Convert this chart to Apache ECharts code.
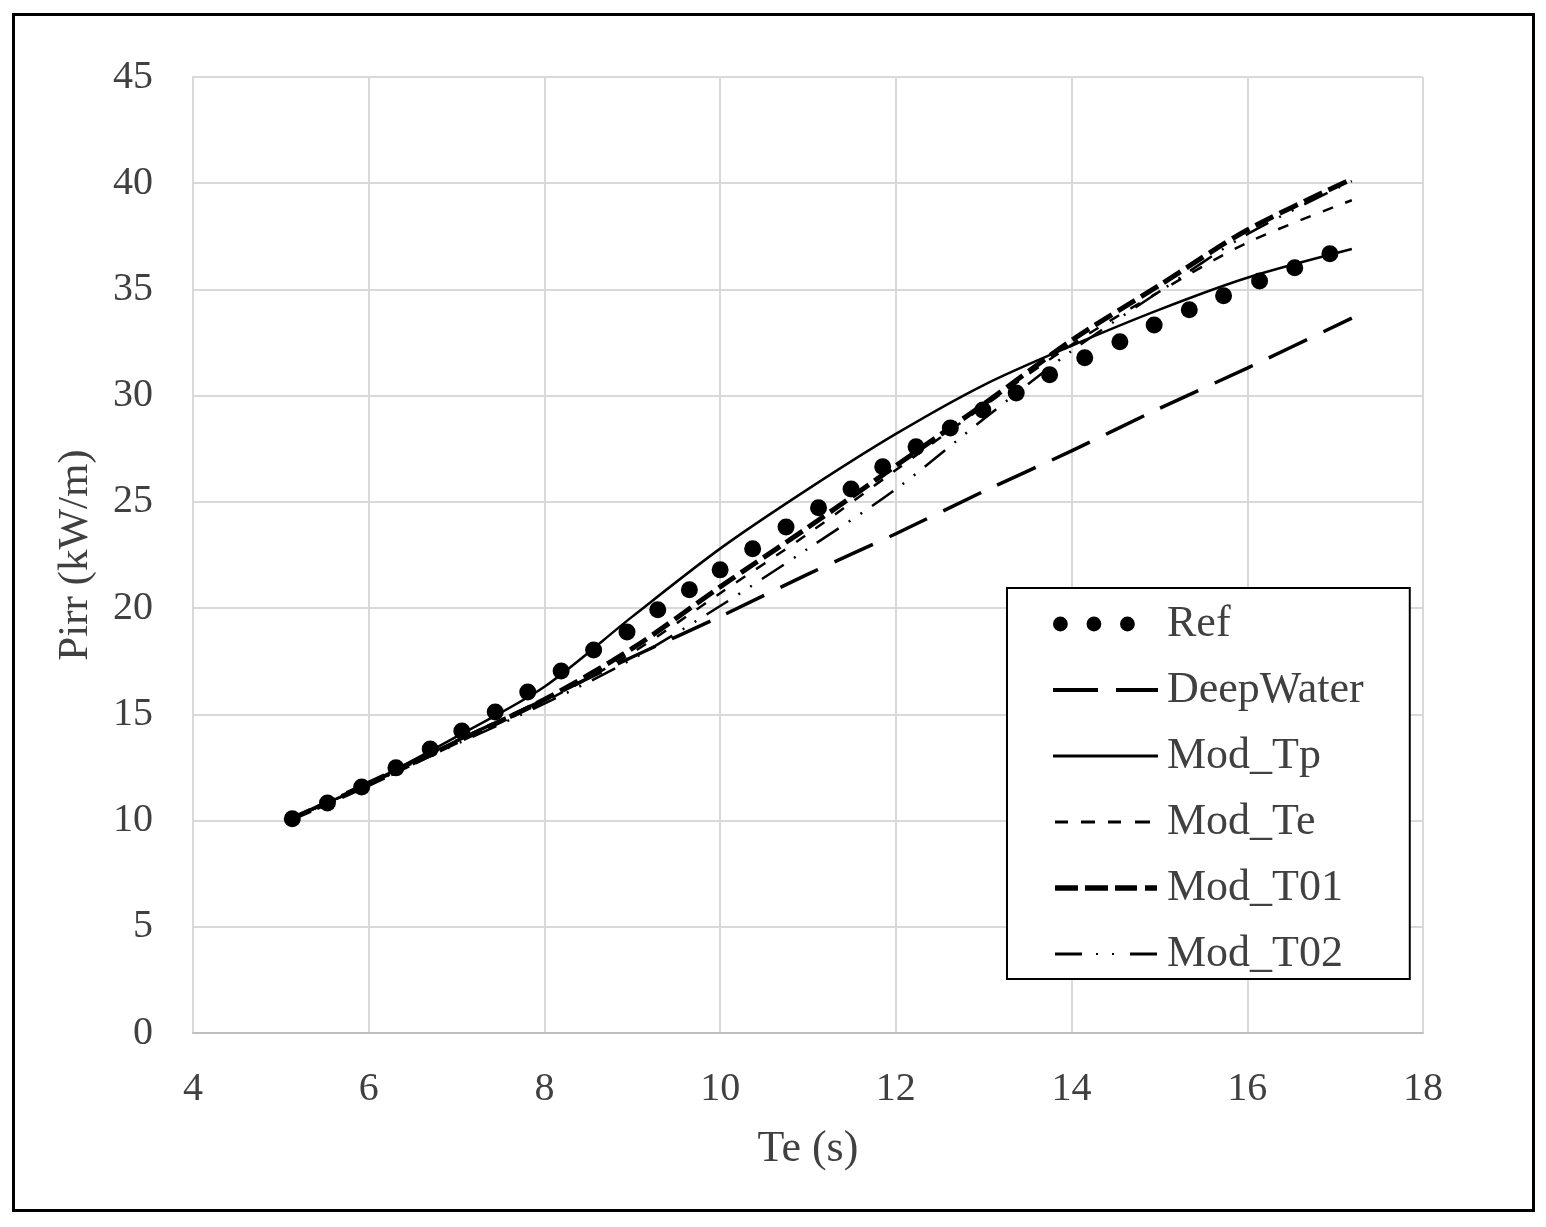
<!DOCTYPE html>
<html>
<head>
<meta charset="utf-8">
<script src="https://cdn.jsdelivr.net/npm/echarts@6/dist/echarts.min.js"></script>
<style>
html,body{margin:0;padding:0;background:#fff;}
#chart{width:1546px;height:1227px;}
</style>
</head>
<body>
<div id="chart"></div>
<script>
// ---- data ----
const refTe = [5.13,5.53,5.92,6.31,6.70,7.06,7.44,7.81,8.19,8.56,8.94,9.29,9.65,10.0,10.37,10.75,11.12,11.49,11.85,12.23,12.62,12.99,13.37,13.75,14.15,14.55,14.94,15.34,15.73,16.14,16.54,16.94];
const refP  = [10.08,10.83,11.58,12.48,13.37,14.22,15.11,16.05,17.04,18.03,18.88,19.92,20.86,21.8,22.79,23.82,24.72,25.61,26.65,27.59,28.48,29.33,30.13,30.98,31.78,32.54,33.33,34.04,34.70,35.4,36.02,36.68];

const modTe     = [5.13, 6, 7, 8, 9, 10, 11, 12, 13, 14, 15, 16, 17.19];
const deepWater = [10.1, 11.8, 13.75, 15.7, 17.7, 19.6, 21.6, 23.5, 25.5, 27.4, 29.4, 31.3, 33.65];
const modTp     = [10.1, 11.75, 13.95, 16.3, 19.6, 22.8, 25.6, 28.2, 30.5, 32.35, 34.05, 35.55, 36.9];
const modTeP    = [10.1, 11.7, 13.7, 15.6, 17.9, 20.7, 23.5, 26.5, 29.5, 32.4, 34.9, 37.2, 39.2];
const modT01    = [10.1, 11.7, 13.7, 15.7, 18.1, 21.0, 23.8, 26.7, 29.6, 32.6, 35.2, 37.8, 40.2];
const modT02    = [10.1, 11.7, 13.6, 15.5, 17.6, 20.1, 22.8, 25.6, 28.9, 32.1, 34.9, 37.6, 40.1];

const seriesNames = ['Ref','DeepWater','Mod_Tp','Mod_Te','Mod_T01','Mod_T02'];
const xTicks = {min: 4, max: 18, interval: 2};
const yTicks = {min: 0, max: 45, interval: 5};

const zip = (xs, ys) => xs.map((x, i) => [x, ys[i]]);
const FONT = '"Liberation Serif", "DejaVu Serif", serif';

// legend icon shapes (105 x 16 box; tiny corner anchors fix the box size)
const ANCH = 'M0,0h0.01v0.01h-0.01zM104.99,15.99h0.01v0.01h-0.01z';
const rect = (x0, x1, h) => `M${x0},${8 - h / 2}H${x1}V${8 + h / 2}H${x0}Z`;
const circ = (cx, r) => `M${cx - r},8a${r},${r} 0 1,0 ${2 * r},0a${r},${r} 0 1,0 ${-2 * r},0Z`;
const icons = {
  'Ref': 'path://' + ANCH + circ(6, 7.5) + circ(40, 7.5) + circ(74, 7.5),
  'DeepWater': 'path://' + ANCH + rect(0, 45, 4) + rect(63, 105, 4),
  'Mod_Tp': 'path://' + ANCH + rect(0, 105, 3),
  'Mod_Te': 'path://' + ANCH + rect(2, 15, 3) + rect(28, 42, 3) + rect(55, 68, 3) + rect(82, 97, 3),
  'Mod_T01': 'path://' + ANCH + rect(2, 25, 5.5) + rect(32, 55, 5.5) + rect(62, 84, 5.5) + rect(92, 104, 5.5),
  'Mod_T02': 'path://' + ANCH + rect(2, 29, 3) + rect(43, 45, 2) + rect(59, 61, 2) + rect(77, 104, 3)
};

const lineSeries = (name, ys, width, type) => ({
  name, type: 'line', data: zip(modTe, ys),
  showSymbol: false, symbol: 'none', smooth: 0.3,
  lineStyle: {color: '#000', width, type},
  itemStyle: {color: '#000'},
  z: 3
});

const chart = echarts.init(document.getElementById('chart'), null, {renderer: 'canvas'});
chart.setOption({
  backgroundColor: '#fff',
  animation: false,
  grid: {left: 193, right: 123, top: 77, bottom: 194, containLabel: false},
  xAxis: {
    type: 'value', min: xTicks.min, max: xTicks.max, interval: xTicks.interval,
    name: 'Te (s)', nameLocation: 'middle', nameGap: 94,
    nameTextStyle: {fontFamily: FONT, fontSize: 44, color: '#404040'},
    axisLine: {show: true, lineStyle: {color: '#bfbfbf', width: 2}},
    axisTick: {show: false},
    axisLabel: {fontFamily: FONT, fontSize: 40, color: '#404040', margin: 36},
    splitLine: {show: true, lineStyle: {color: '#d9d9d9', width: 2}}
  },
  yAxis: {
    type: 'value', min: yTicks.min, max: yTicks.max, interval: yTicks.interval,
    name: 'Pirr (kW/m)', nameLocation: 'middle', nameGap: 96, nameRotate: 90,
    nameTextStyle: {fontFamily: FONT, fontSize: 43, color: '#404040'},
    axisLine: {show: true, lineStyle: {color: '#d9d9d9', width: 2}},
    axisTick: {show: false},
    axisLabel: {fontFamily: FONT, fontSize: 40, color: '#404040', margin: 40},
    splitLine: {show: true, lineStyle: {color: '#d9d9d9', width: 2}}
  },
  legend: {
    orient: 'vertical', left: 1007, top: 588,
    backgroundColor: '#fff', borderColor: '#000', borderWidth: 2,
    padding: [14, 46, 3, 46],
    itemWidth: 105, itemHeight: 16, itemGap: 22,
    itemStyle: {color: '#000', borderWidth: 0},
    textStyle: {fontFamily: FONT, fontSize: 44, color: '#404040', lineHeight: 41, padding: [0, 0, 0, 4]},
    data: seriesNames.map(n => ({name: n, icon: icons[n], itemStyle: {color: '#000', borderWidth: 0, opacity: 1}}))
  },
  graphic: [{
    type: 'rect', shape: {x: 13.5, y: 14.5, width: 1520, height: 1196},
    style: {fill: 'none', stroke: '#000', lineWidth: 3}, z: 100, silent: true
  }],
  series: [
    lineSeries('DeepWater', deepWater, 3.5, [42, 18]),
    lineSeries('Mod_Tp', modTp, 2.5, 'solid'),
    lineSeries('Mod_Te', modTeP, 2.5, [11, 13]),
    lineSeries('Mod_T01', modT01, 5, [20, 7]),
    lineSeries('Mod_T02', modT02, 2.5, [26, 12, 2, 12, 2, 12]),
    {
      name: 'Ref', type: 'scatter', data: zip(refTe, refP),
      symbol: 'circle', symbolSize: 17,
      itemStyle: {color: '#000', opacity: 1}, z: 4
    }
  ]
});
</script>
</body>
</html>
